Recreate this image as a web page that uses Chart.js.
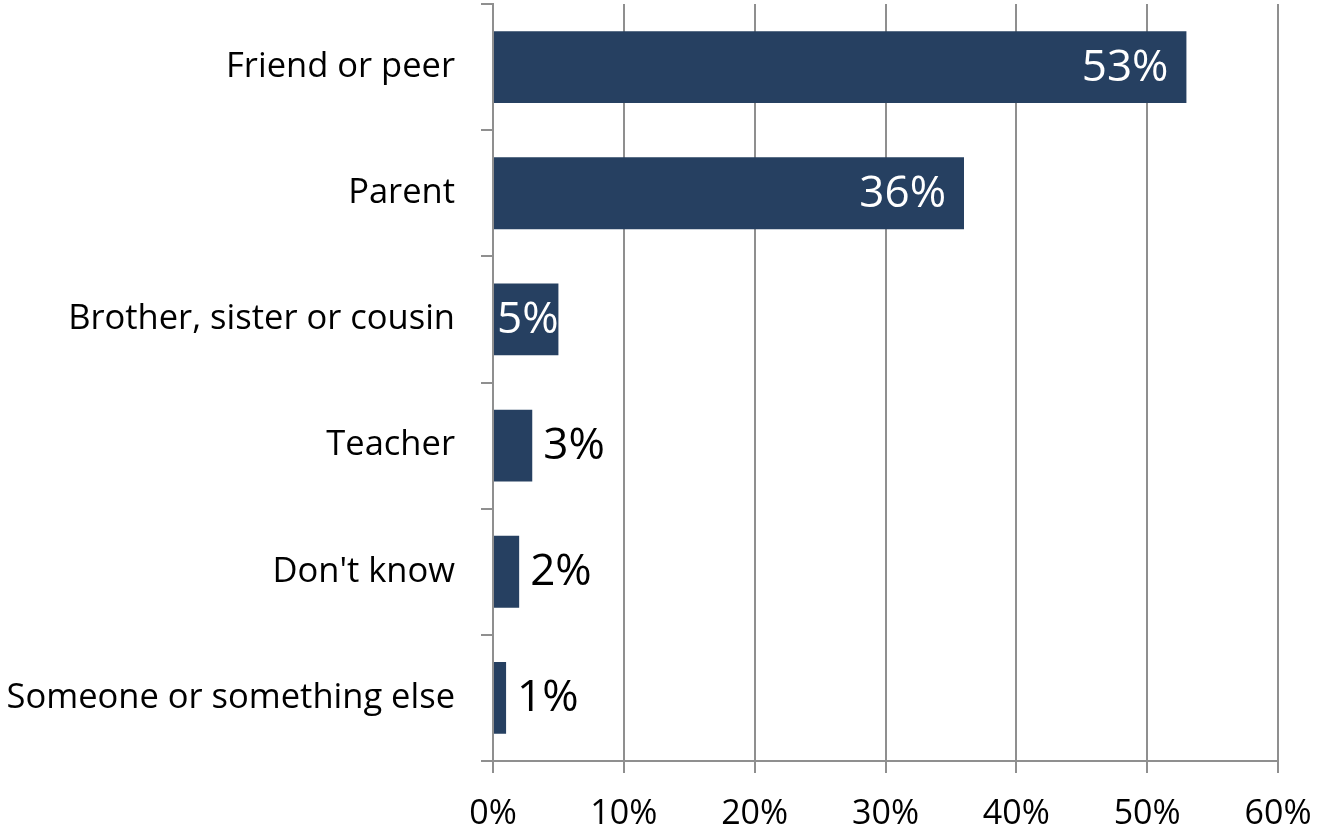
<!DOCTYPE html>
<html lang="en">
  <head>
    <meta charset="UTF-8" />
    <title>Who they turn to</title>
    <script src="https://cdn.jsdelivr.net/npm/chart.js"></script>
    <style>
      html, body { margin: 0; padding: 0; background: #fff; }
      #wrap { width: 1317px; height: 836px; }
    </style>
  </head>
  <body>
    <div id="wrap"><canvas id="chart"></canvas></div>

    <script>
      const categories = [
        "Friend or peer",
        "Parent",
        "Brother, sister or cousin",
        "Teacher",
        "Don't know",
        "Someone or something else",
      ];
      const values = [53, 36, 5, 3, 2, 1];
      // labels drawn inside the bar (white) for these, outside (black) otherwise
      const insideLabel = [true, true, true, false, false, false];

      const FONT = "'Open Sans', Lato, sans-serif";
      const GRID = "#8f8f8f";

      const valueLabels = {
        id: "valueLabels",
        afterDatasetsDraw(chart) {
          const ctx = chart.ctx;
          const meta = chart.getDatasetMeta(0);
          ctx.save();
          ctx.font = "44px " + FONT;
          ctx.textBaseline = "middle";
          meta.data.forEach((bar, i) => {
            const txt = values[i] + "%";
            if (insideLabel[i]) {
              ctx.fillStyle = "#ffffff";
              const w = ctx.measureText(txt).width;
              let x = bar.x - 18;
              if (x - w < bar.base + 4) { ctx.textAlign = "left"; x = bar.base + 3; }
              else ctx.textAlign = "right";
              ctx.fillText(txt, x, bar.y + 1);
            } else {
              ctx.fillStyle = "#000000";
              ctx.textAlign = "left";
              ctx.fillText(txt, bar.x + 11, bar.y + 1);
            }
          });
          ctx.restore();
        },
      };

      new Chart(document.getElementById("chart"), {
        type: "bar",
        data: {
          labels: categories,
          datasets: [
            {
              data: values,
              backgroundColor: "#264061",
              borderWidth: 0,
              barPercentage: 0.57,
              categoryPercentage: 1,
            },
          ],
        },
        options: {
          indexAxis: "y",
          responsive: true,
          maintainAspectRatio: false,
          animation: false,
          layout: { padding: { top: 4, right: 39, left: 0, bottom: 0 } },
          plugins: { legend: { display: false }, tooltip: { enabled: false } },
          scales: {
            x: {
              min: 0,
              max: 60,
              ticks: {
                stepSize: 10,
                callback: (v) => v + "%",
                color: "#000",
                font: { family: FONT, size: 34 },
                padding: 21,
              },
              grid: { color: GRID, lineWidth: 2, tickLength: 12 },
              border: { color: GRID, width: 2 },
              afterFit: (s) => {
                s.height = 75;
                s.paddingLeft = 0;
                s.paddingRight = 0;
              },
            },
            y: {
              offset: true,
              ticks: {
                color: "#000",
                font: { family: FONT, size: 34.5 },
                padding: 26,
              },
              grid: {
                offset: true,
                drawOnChartArea: false,
                color: GRID,
                lineWidth: 2,
                tickLength: 12,
              },
              border: { color: GRID, width: 2 },
              afterFit: (s) => {
                s.width = 493;
                s.paddingTop = 0;
                s.paddingBottom = 0;
              },
            },
          },
        },
        plugins: [valueLabels],
      });
    </script>
  </body>
</html>
